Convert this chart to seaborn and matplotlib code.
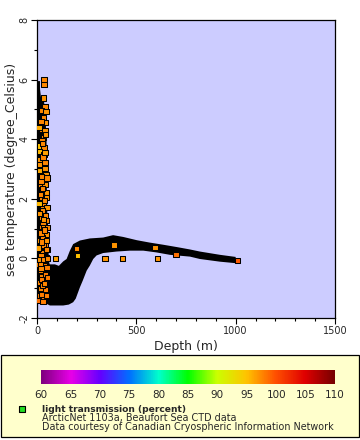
import matplotlib
matplotlib.use("Agg")
import matplotlib.pyplot as plt
import matplotlib.colors as mcolors
import matplotlib.patches as mpatches
import numpy as np
import pandas as pd
import seaborn as sns

sns.set_style("white")
plt.rcParams['font.family'] = ['DejaVu Sans']

# ---- data ----
# dense black mass of overlapping markers (outline, depth m / temperature C)
mass_depth = [0, 15, 15, 20, 35, 42, 48, 48, 50, 52, 56, 58, 60, 64, 90, 110, 132, 149, 165,
              182, 216, 266, 333, 383, 434, 503, 568, 634, 704, 770, 820, 921, 988, 1000,
              1000, 921, 820, 770, 669, 602, 535, 468, 400, 333, 300, 283, 266, 250, 230,
              216, 195, 182, 160, 132, 65, 32, 0]
mass_temp = [5.95, 5.95, 5.7, 5.4, 5.3, 4.8, 4.0, 3.0, 2.2, 1.5, 0.9, 0.3, -0.1, -0.2, -0.2,
             -0.25, -0.1, -0.02, 0.25, 0.48, 0.6, 0.67, 0.70, 0.78, 0.72, 0.61, 0.53, 0.46,
             0.38, 0.30, 0.23, 0.12, 0.06, 0.05, -0.16, -0.11, -0.02, 0.06, 0.12, 0.2, 0.26,
             0.26, 0.23, 0.18, 0.1, -0.02, -0.24, -0.41, -0.75, -0.97, -1.35, -1.47, -1.55,
             -1.58, -1.58, -1.47, -1.41]

# individual visible markers
pt_depth = [35, 35, 32, 40, 23, 45, 32, 40, 23, 40, 32, 12, 35, 12, 35, 15, 40, 18, 40, 18,
            45, 23, 18, 40, 28, 23, 48, 23, 32, 28, 48, 23, 45, 15, 40, 28, 48, 32, 40, 23,
            40, 32, 12, 10, 25, 30, 12, 20, 30, 10, 22, 35, 14, 28, 8, 20, 32, 42, 10, 26,
            38, 14, 30, 44, 18, 36, 8, 24,
            20, 44, 28, 12, 50, 22, 46, 16, 36, 50, 26, 42, 14, 52, 30, 48, 20, 38, 52, 24,
            46, 12, 34, 50, 18, 44, 28, 54, 36, 22, 48, 30, 16, 40, 26, 52, 34, 20,
            95, 199, 204, 342, 431, 608, 594, 388, 700, 1008]
pt_temp = [6.0, 5.83, 5.38, 5.1, 4.96, 4.94, 4.72, 4.55, 4.32, 4.28, 4.05, 3.77, 3.71, 3.6,
           3.49, 3.32, 3.21, 3.04, 3.02, 2.82, 2.82, 2.65, 2.43, 2.49, 2.21, 2.32, 2.21, 2.04,
           1.82, 1.54, 1.26, 1.04, 0.81, 0.59, 0.48, 0.2, 0.03, -0.13, -0.36, -0.58, -0.75,
           -0.97, -1.25, 4.4, 3.95, 3.4, 2.95, 2.6, 1.68, 1.85, 1.35, 1.1, 0.9, 0.7, 0.35,
           0.1, 0.45, -0.5, -0.2, -0.45, -1.1, -0.8, -1.3, -1.05, -1.0, -0.25, -1.4, -0.7,
           4.6, 4.15, 3.85, 3.15, 2.7, 2.75, 2.05, 2.15, 1.95, 1.7, 1.62, 1.45, 1.5, 1.05,
           1.2, 0.6, 0.85, 0.95, 0.3, 0.55, 0.3, -0.05, -0.05, -0.3, -0.4, -0.55, -0.9,
           -0.65, -0.85, -1.2, -1.25, -1.45, -0.2, 3.55, 2.35, 0.0, 1.3, -0.35,
           0.01, 0.34, 0.11, 0.01, 0.01, 0.01, 0.37, 0.45, 0.12, -0.06]
pt_trans = [97.5, 97.5, 97, 97.5, 97.5, 97, 97.5, 97, 97.5, 97, 97.5, 95, 97.5, 95.5, 97.5,
            97, 97.5, 97.5, 97, 97.5, 97, 97.5, 97.5, 97, 97.5, 97.5, 97, 97.5, 97.5, 97,
            97.5, 97.5, 97, 97, 97.5, 97.5, 97, 97.5, 97.5, 97.5, 97.5, 98, 98, 96, 97.5,
            97.5, 96, 97.5, 97.5, 95.5, 97.5, 97, 97.5, 97.5, 96.5, 97.5, 97.5, 98, 97.5,
            98, 98, 97.5, 98, 98, 97.5, 98, 98.5, 98,
            97.5, 97, 97.5, 97, 97.5, 97.5, 97, 97.5, 97.5, 97, 97.5, 97.5, 97, 97.5, 97.5,
            97, 97.5, 97.5, 97, 97.5, 97.5, 97, 97.5, 98, 97.5, 98, 97.5, 98, 97.5, 98, 98,
            98, 97.5, 96.5, 97.5, 97.5, 97, 97.5,
            96.5, 97.5, 95, 97, 97, 97, 97, 97, 98.5, 99.5]

x_ticks = [0, 500, 1000, 1500]
y_ticks = [-2, 0, 2, 4, 6, 8]
cbar_ticks = [60, 65, 70, 75, 80, 85, 90, 95, 100, 105, 110]

# ---- colormap like the reference colour bar ----
cstops = [(0.0, '#800080'), (0.1, '#E800E8'), (0.2, '#6400FF'), (0.3, '#0070FF'),
          (0.4, '#00FFCC'), (0.5, '#00FF00'), (0.6, '#CCFF00'), (0.7, '#FFC400'),
          (0.8, '#FF5000'), (0.9, '#E00000'), (1.0, '#780000')]
cmap = mcolors.LinearSegmentedColormap.from_list('erd', cstops)
norm = mcolors.Normalize(60, 110)

W, H = 360, 440
fig = plt.figure(figsize=(W / 100, H / 100), dpi=100)
fig.patch.set_facecolor('white')

# background axes for the legend box and its texts
bg = fig.add_axes([0, 0, 1, 1], facecolor='none', zorder=0)
bg.set_xlim(0, W)
bg.set_ylim(H, 0)
bg.axis('off')
bg.add_patch(mpatches.Rectangle((1, 355), 358, 82, facecolor='#FFFFCC', edgecolor='black',
                                lw=0.9))
bg.scatter([22], [409], marker='s', s=22, color='#22DD22', edgecolor='black', linewidth=0.8)
bg.text(42, 409, 'light transmission (percent)', fontsize=6.6, fontweight='bold',
        va='center', ha='left')
bg.text(42, 418.5, 'ArcticNet 1103a, Beaufort Sea CTD data', fontsize=6.9,
        va='center', ha='left')
bg.text(42, 427.5, 'Data courtesy of Canadian Cryospheric Information Network',
        fontsize=6.9, va='center', ha='left')

ax = fig.add_axes([37 / W, 1 - 318 / H, 298 / W, 298 / H], zorder=2)
ax.set_facecolor('#CCCCFF')

ax.fill(mass_depth, mass_temp, color='black', lw=0, zorder=2)

df = pd.DataFrame({'depth': pt_depth, 'temp': pt_temp, 'trans': pt_trans})
sns.scatterplot(data=df, x='depth', y='temp', hue='trans', palette=cmap, hue_norm=norm,
                marker='s', s=14, edgecolor='black', linewidth=0.75, legend=False,
                ax=ax, zorder=3)

ax.set_xlim(0, 1500)
ax.set_ylim(-2, 8)
ax.set_xticks(x_ticks)
ax.set_xticks(np.arange(0, 1501, 100), minor=True)
ax.set_yticks(y_ticks)
ax.set_yticks(np.arange(-2, 8.1, 1), minor=True)
ax.set_yticklabels([str(v) for v in y_ticks], rotation=90, va='center')
ax.tick_params(which='major', direction='out', length=4, width=0.8, labelsize=7, pad=1.5,
               color='black', left=True, bottom=True)
ax.tick_params(which='minor', direction='out', length=2, width=0.8, left=True, bottom=True,
               color='black')
for s in ax.spines.values():
    s.set_color('black')
    s.set_linewidth(0.9)
ax.set_xlabel('Depth (m)', fontsize=9, labelpad=3)
ax.set_ylabel('sea temperature (degree_Celsius)', fontsize=9)
ax.yaxis.set_label_coords(-0.064, 0.5)

cax = fig.add_axes([41 / W, 1 - 384 / H, 294 / W, 14 / H], zorder=2)
gradient = np.linspace(60, 110, 400).reshape(1, -1)
cax.imshow(gradient, aspect='auto', cmap=cmap, norm=norm, extent=[60, 110, 0, 1])
cax.set_xlim(60, 110)
cax.set_xticks(cbar_ticks)
cax.set_yticks([])
cax.tick_params(axis='x', direction='out', length=3, width=0.8, labelsize=7.5, pad=1.5)
for s in cax.spines.values():
    s.set_visible(False)

fig.savefig('out.png', dpi=100)
